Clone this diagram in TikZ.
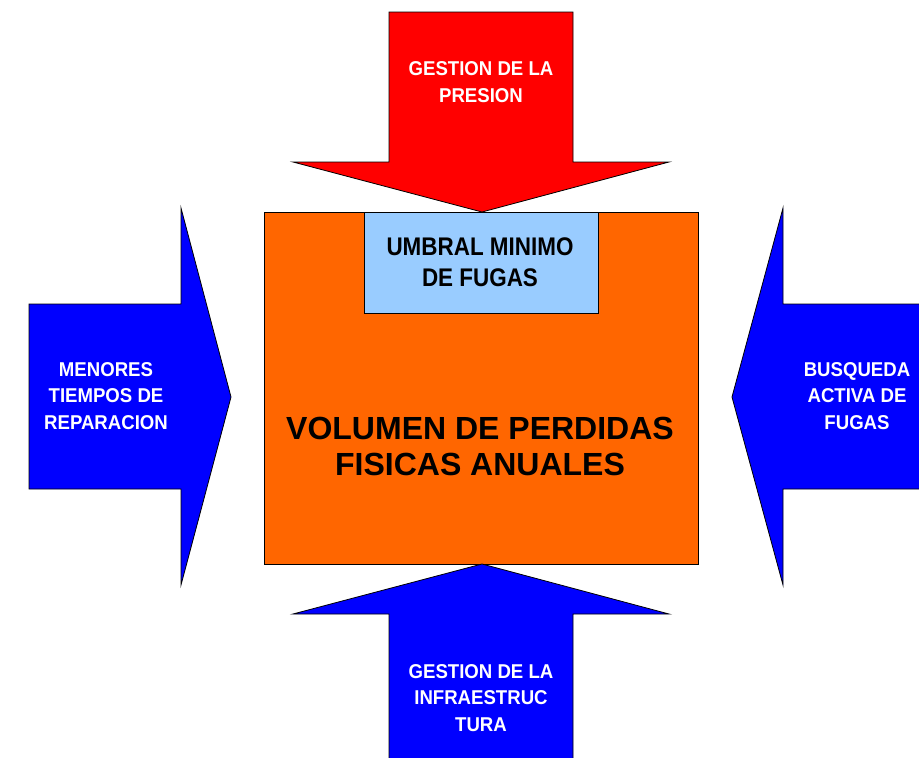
\documentclass[tikz,border=0pt]{standalone}
\usepackage{fontspec}
\setmainfont{Liberation Sans}
\newfontfamily\angosta[FakeStretch=0.88]{Liberation Sans}
\newfontfamily\media[FakeStretch=0.93]{Liberation Sans}
\usepackage{tikz}
\usetikzlibrary{positioning}

\definecolor{rojo}{HTML}{FF0000}
\definecolor{azul}{HTML}{0000FF}
\definecolor{naranja}{HTML}{FF6600}
\definecolor{celeste}{HTML}{99CCFF}

\begin{document}
\begin{tikzpicture}	[
		x=1pt, y=-1pt,
		flecha/.style={draw, line width=0.8pt, line join=miter},
		etiq/.style={align=center, text=white, inner sep=0,
			font=\media\fontsize{20}{26.5}\selectfont\bfseries}
	]
		\useasboundingbox (0,0) rectangle (919,758);
		\clip (0,0) rectangle (919,758);

		\draw[flecha, fill=naranja] (264,212) rectangle (698,564);
		\draw[flecha, fill=celeste] (364,212) rectangle (598,313);

		\draw[flecha, fill=rojo]
			(389,12) -- (573,12) -- (573,162) -- (669,162) -- (482,212)
			-- (293,162) -- (389,162) -- cycle
		;
		\draw[flecha, fill=azul]
			(29,304) -- (181,304) -- (181,208) -- (231,397) -- (181,585)
			-- (181,489) -- (29,489) -- cycle
			(925,304) -- (783,304) -- (783,208) -- (732,397) -- (783,585)
			-- (783,489) -- (925,489) -- cycle
			(389,765) -- (389,614) -- (293,614) -- (482,564) -- (669,614)
			-- (573,614) -- (573,765) -- cycle
		;

		\path
			(481,82) node[etiq](P){GESTION DE LA\\PRESION}
			(106,396) node[etiq](R){MENORES\\TIEMPOS DE\\REPARACION}
			(857,396) node[etiq](B){BUSQUEDA\\ACTIVA DE\\FUGAS}
			(481,698) node[etiq](I){GESTION DE LA\\INFRAESTRUC\\TURA}
			(480,262) node[align=center, inner sep=0,
				font=\angosta\fontsize{25.5}{31}\selectfont\bfseries](U){UMBRAL MINIMO\\DE FUGAS}
			(480,446) node[align=center, inner sep=0,
				font=\fontsize{32}{36}\selectfont\bfseries](V){VOLUMEN DE PERDIDAS\\FISICAS ANUALES}
		;
	\end{tikzpicture}
\end{document}
